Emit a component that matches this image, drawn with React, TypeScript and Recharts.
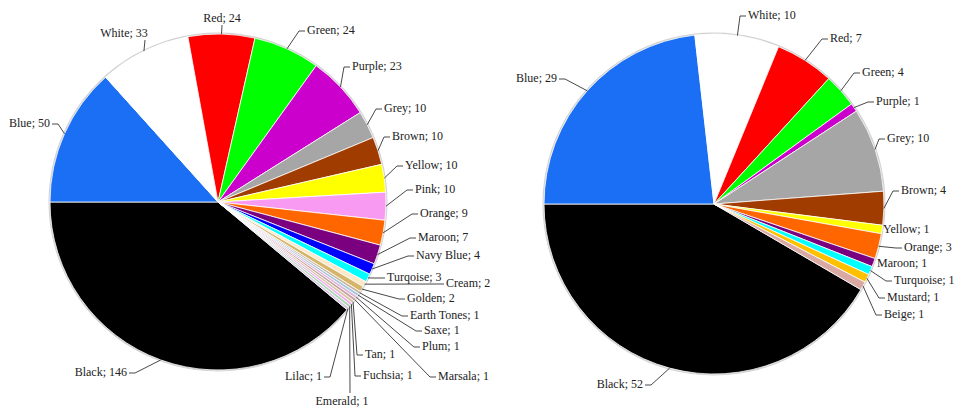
import React from 'react';
import { PieChart, Pie, Cell } from 'recharts';

// Left pie: colour counts
const leftNames = [
    'Black', 'Blue', 'White', 'Red', 'Green', 'Purple', 'Grey', 'Brown', 'Yellow', 'Pink', 'Orange', 'Maroon',
    'Navy Blue', 'Turqoise', 'Cream', 'Golden', 'Earth Tones', 'Saxe', 'Plum', 'Marsala', 'Tan', 'Fuchsia',
    'Emerald', 'Lilac',
];
const leftCounts = [146, 50, 33, 24, 24, 23, 10, 10, 10, 10, 9, 7, 4, 3, 2, 2, 1, 1, 1, 1, 1, 1, 1, 1];

// Right pie: colour counts
const rightNames = [
    'Black', 'Blue', 'White', 'Red', 'Green', 'Purple', 'Grey', 'Brown', 'Yellow', 'Orange', 'Maroon',
    'Turquoise', 'Mustard', 'Beige',
];
const rightCounts = [52, 29, 10, 7, 4, 1, 10, 4, 1, 3, 1, 1, 1, 1];

const fills: Record<string, string> = {
    Black: '#000000',
    Blue: '#1a6ff4',
    White: '#ffffff',
    Red: '#ff0000',
    Green: '#00ff00',
    Purple: '#cc00cc',
    Grey: '#a6a6a6',
    Brown: '#a03c00',
    Yellow: '#ffff00',
    Pink: '#f99af2',
    Orange: '#ff6600',
    Maroon: '#7a0080',
    'Navy Blue': '#0000ff',
    Turqoise: '#00ffff',
    Turquoise: '#00ffff',
    Cream: '#fde9c9',
    Golden: '#d6b56a',
    'Earth Tones': '#c9b79c',
    Saxe: '#a6c4dc',
    Plum: '#dcb6dc',
    Marsala: '#c9a0a0',
    Tan: '#d9c4a6',
    Fuchsia: '#f0b0f0',
    Emerald: '#a8d8b0',
    Lilac: '#d8c8e0',
    Mustard: '#ffc000',
    Beige: '#dba9a3',
};

// label placement, offsets from the pie centre
type Spot = { dx: number; dy: number; anchor: 'start' | 'end' | 'middle'; lx?: number; ly?: number; noLine?: boolean };

const leftSpots: Record<string, Spot> = {
    Black: { dx: -91, dy: 170, anchor: 'end' },
    Blue: { dx: -168, dy: -79, anchor: 'end' },
    White: { dx: -94, dy: -169, anchor: 'middle', lx: -73, ly: -162 },
    Red: { dx: 4, dy: -184, anchor: 'middle', lx: 4, ly: -177 },
    Green: { dx: 89, dy: -172, anchor: 'start' },
    Purple: { dx: 134, dy: -136, anchor: 'start' },
    Grey: { dx: 166, dy: -94, anchor: 'start' },
    Brown: { dx: 174, dy: -66, anchor: 'start' },
    Yellow: { dx: 187, dy: -37, anchor: 'start' },
    Pink: { dx: 197, dy: -13, anchor: 'start' },
    Orange: { dx: 202, dy: 11, anchor: 'start' },
    Maroon: { dx: 200, dy: 35, anchor: 'start' },
    'Navy Blue': { dx: 198, dy: 53, anchor: 'start' },
    Turqoise: { dx: 169, dy: 75, anchor: 'start' },
    Cream: { dx: 228, dy: 81, anchor: 'start' },
    Golden: { dx: 189, dy: 96, anchor: 'start' },
    'Earth Tones': { dx: 192, dy: 113, anchor: 'start' },
    Saxe: { dx: 206, dy: 128, anchor: 'start' },
    Plum: { dx: 204, dy: 144, anchor: 'start' },
    Marsala: { dx: 220, dy: 174, anchor: 'start' },
    Tan: { dx: 147, dy: 152, anchor: 'start' },
    Fuchsia: { dx: 145, dy: 173, anchor: 'start' },
    Emerald: { dx: 124, dy: 199, anchor: 'middle', lx: 132, ly: 191 },
    Lilac: { dx: 104, dy: 174, anchor: 'end' },
};

const rightSpots: Record<string, Spot> = {
    Black: { dx: -71, dy: 180, anchor: 'end' },
    Blue: { dx: -157, dy: -126, anchor: 'end' },
    White: { dx: 34, dy: -189, anchor: 'start' },
    Red: { dx: 116, dy: -166, anchor: 'start' },
    Green: { dx: 148, dy: -132, anchor: 'start' },
    Purple: { dx: 162, dy: -103, anchor: 'start' },
    Grey: { dx: 173, dy: -66, anchor: 'start' },
    Brown: { dx: 187, dy: -14, anchor: 'start' },
    Yellow: { dx: 169, dy: 25, anchor: 'start', noLine: true },
    Orange: { dx: 190, dy: 43, anchor: 'start' },
    Maroon: { dx: 163, dy: 59, anchor: 'start', noLine: true },
    Turquoise: { dx: 180, dy: 76, anchor: 'start' },
    Mustard: { dx: 173, dy: 93, anchor: 'start' },
    Beige: { dx: 170, dy: 110, anchor: 'start' },
};

const leftData = leftNames.map((name, i) => ({ name, value: leftCounts[i] }));
const rightData = rightNames.map((name, i) => ({ name, value: rightCounts[i] }));

const sum = (arr: number[]) => arr.reduce((a, b) => a + b, 0);
// Black ends at 9 o'clock, slices run clockwise
const leftStart = 180 + (leftCounts[0] / sum(leftCounts)) * 360;
const rightStart = 180 + (rightCounts[0] / sum(rightCounts)) * 360;

const RAD = Math.PI / 180;
const font = 'Liberation Serif, DejaVu Serif, serif';

const makeLabel = (names: string[], spots: Record<string, Spot>) => (props: any) => {
    const { cx, cy, midAngle, outerRadius, index, value } = props;
    const name = names[index];
    const spot = spots[name];
    if (!spot) return null;
    const ex = cx + outerRadius * Math.cos(midAngle * RAD);
    const ey = cy - outerRadius * Math.sin(midAngle * RAD);
    const tx = cx + spot.dx;
    const ty = cy + spot.dy;
    let pts: number[][];
    if (spot.anchor === 'middle') {
        pts = [[ex, ey], [cx + (spot.lx ?? spot.dx), cy + (spot.ly ?? spot.dy)]];
    } else {
        const dir = spot.anchor === 'start' ? -1 : 1;
        const end = [tx + dir * 2, ty + 1];
        const elbow = [tx + dir * 8, ty + 1];
        pts = [[ex, ey], elbow, end];
    }
    return (
        <g key={`lbl-${name}`} fontFamily={font}>
            {!spot.noLine && (
                <polyline
                    points={pts.map((p) => p.join(',')).join(' ')}
                    fill="none"
                    stroke="#333"
                    strokeWidth={0.9}
                />
            )}
            <text
                x={tx}
                y={ty}
                textAnchor={spot.anchor}
                dominantBaseline="central"
                fontFamily={font}
                fontSize={12}
                fill="#222"
            >
                {`${name}; ${value}`}
            </text>
        </g>
    );
};

const App = () => {
    return (
        <div
            style={{
                position: 'absolute',
                left: 0,
                top: 0,
                width: 954,
                height: 407,
                background: '#fff',
                fontFamily: font,
            }}
        >
            <PieChart
                width={954}
                height={407}
                margin={{ top: 0, right: 0, bottom: 0, left: 0 }}
                style={{ fontFamily: font }}
            >
                <Pie
                    data={[{ name: 'edge', value: 1 }]}
                    dataKey="value"
                    cx={218}
                    cy={202}
                    outerRadius={169.5}
                    fill="#d2d2d2"
                    stroke="none"
                    isAnimationActive={false}
                />
                <Pie
                    data={[{ name: 'edge', value: 1 }]}
                    dataKey="value"
                    cx={714}
                    cy={204}
                    outerRadius={171.5}
                    fill="#d2d2d2"
                    stroke="none"
                    isAnimationActive={false}
                />
                <Pie
                    data={leftData}
                    dataKey="value"
                    nameKey="name"
                    cx={218}
                    cy={202}
                    outerRadius={168}
                    startAngle={leftStart}
                    endAngle={leftStart - 360}
                    stroke="#ffffff"
                    strokeWidth={0.8}
                    label={makeLabel(leftNames, leftSpots)}
                    labelLine={false}
                    isAnimationActive={false}
                >
                    {leftData.map((d) => (
                        <Cell key={d.name} fill={fills[d.name]} />
                    ))}
                </Pie>
                <Pie
                    data={rightData}
                    dataKey="value"
                    nameKey="name"
                    cx={714}
                    cy={204}
                    outerRadius={170}
                    startAngle={rightStart}
                    endAngle={rightStart - 360}
                    stroke="#ffffff"
                    strokeWidth={0.8}
                    label={makeLabel(rightNames, rightSpots)}
                    labelLine={false}
                    isAnimationActive={false}
                >
                    {rightData.map((d) => (
                        <Cell key={d.name} fill={fills[d.name]} />
                    ))}
                </Pie>
            </PieChart>
        </div>
    );
};

export default App;
